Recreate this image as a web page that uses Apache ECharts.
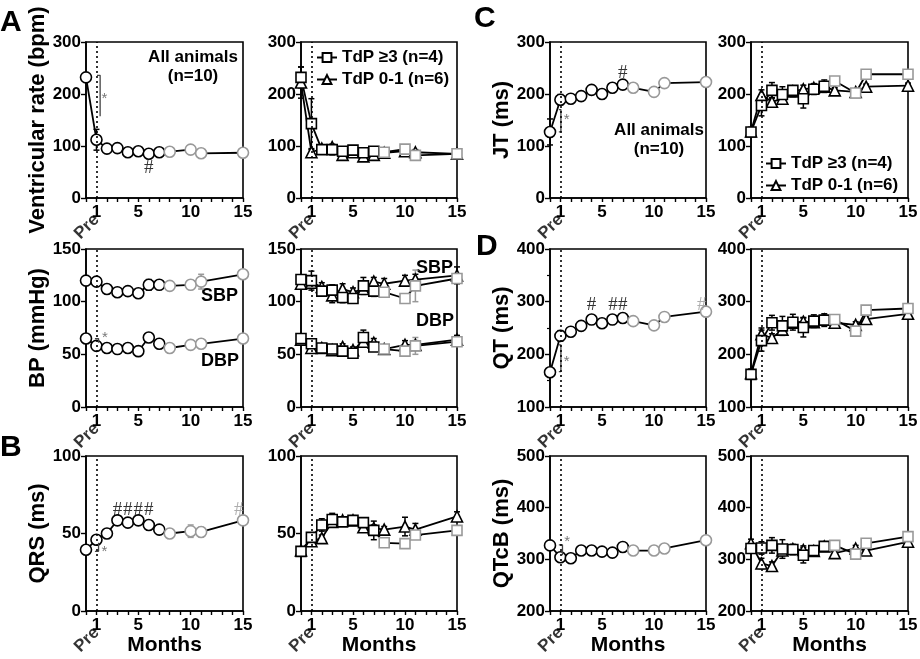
<!DOCTYPE html>
<html style="width: 100%;height:100%;">

<head>
    <meta charset="utf-8">
    <title>ECG and BP changes over months</title>
    <script src="https://cdn.jsdelivr.net/npm/echarts@6/dist/echarts.min.js"></script>
    <style>
        body {
            margin: 0;
            background: #ffffff;
        }

        #chart {
            width: 920px;
            height: 659px;
        }
    </style>
</head>

<body>
    <div id="chart"></div>
    <script>
        // months after AV block; 0 = "Pre"
        const months = [0, 1, 2, 3, 4, 5, 6, 7, 8, 10, 11, 15];
        const grayMonths = [8, 10, 11, 15];
        const tickMonths = [1, 5, 10, 15];
        const tdp3Name = 'TdP ≥3 (n=4)';
        const tdp01Name = 'TdP 0-1 (n=6)';

        // ventricular rate (bpm)
        const vrAll = [232, 112, 95, 96, 88, 90, 85, 88, 89, 93, 86, 87];
        const vrAllErr = [6, 20, 4, 5, 4, 4, 5, 4, 5, 4, 4, 4];
        const vrTdp3 = [232, 143, 93, 93, 90, 92, 87, 90, 88, 94, 82, 85];
        const vrTdp3Err = [20, 48, 6, 10, 5, 5, 6, 5, 5, 6, 5, 4];
        const vrTdp01 = [222, 88, 95, 98, 83, 88, 80, 83, 87, 90, 88, 85];
        const vrTdp01Err = [30, 5, 5, 5, 4, 4, 5, 4, 4, 5, 5, 4];

        // blood pressure (mmHg)
        const sbpAll = [120, 119, 112, 109, 110, 108, 116, 116, 115, 116, 119, 126];
        const sbpAllErr = [3, 3, 3, 4, 3, 3, 5, 3, 4, 4, 7, 3];
        const dbpAll = [65, 58, 56, 55, 56, 53, 66, 60, 56, 59, 60, 65];
        const dbpAllErr = [3, 3, 3, 3, 3, 3, 4, 3, 3, 3, 4, 3];
        const sbpTdp3 = [121, 120, 110, 111, 104, 103, 115, 110, 109, 103, 115, 122];
        const sbpTdp3Err = [4, 9, 4, 5, 5, 4, 8, 5, 4, 4, 15, 4];
        const sbpTdp01 = [117, 118, 114, 106, 112, 109, 112, 119, 117, 120, 121, 125];
        const sbpTdp01Err = [4, 4, 4, 7, 5, 4, 5, 4, 5, 5, 5, 8];
        const dbpTdp3 = [65, 60, 56, 55, 53, 51, 66, 57, 55, 53, 58, 62];
        const dbpTdp3Err = [3, 4, 3, 3, 3, 3, 7, 3, 3, 3, 8, 3];
        const dbpTdp01 = [64, 56, 56, 54, 57, 54, 62, 61, 55, 59, 59, 64];
        const dbpTdp01Err = [3, 3, 3, 3, 3, 3, 5, 4, 3, 4, 4, 4];

        // QRS (ms)
        const qrsAll = [39.5, 46, 50, 58.5, 57, 58.5, 55.5, 52.5, 50, 51.5, 51, 58.5];
        const qrsAllErr = [1, 2, 2, 2, 2, 2, 2, 2, 1, 4, 3, 1];
        const qrsTdp3 = [38.5, 47.5, 55.5, 59, 57.5, 58.5, 57, 52, 44, 43.5, 49, 52];
        const qrsTdp3Err = [1, 3, 4, 4, 2, 3, 3, 6, 1, 1, 1, 1];
        const qrsTdp01 = [39, 45, 47, 57.5, 58.5, 58.5, 54, 53.5, 52.5, 54.5, 52.5, 61];
        const qrsTdp01Err = [1, 2, 2, 2, 2, 2, 2, 2, 2, 6, 4, 3];

        // JT (ms)
        const jtAll = [127, 189, 191, 196, 208, 200, 212, 218, 212, 204, 221, 223];
        const jtAllErr = [25, 10, 6, 8, 5, 6, 4, 5, 6, 4, 7, 3];
        const jtTdp3 = [127, 178, 207, 199, 207, 191, 209, 215, 225, 202, 238, 238];
        const jtTdp3Err = [8, 20, 15, 15, 8, 18, 10, 12, 4, 4, 4, 4];
        const jtTdp01 = [128, 198, 185, 191, 205, 209, 212, 214, 207, 204, 214, 216];
        const jtTdp01Err = [8, 10, 8, 8, 10, 8, 8, 8, 5, 5, 5, 5];

        // QT (ms)
        const qtAll = [166, 235, 243, 254, 266, 259, 266, 269, 263, 255, 271, 281];
        const qtAllErr = [5, 10, 6, 5, 5, 6, 4, 8, 4, 4, 8, 4];
        const qtTdp3 = [162, 226, 260, 254, 261, 251, 263, 265, 266, 244, 284, 287];
        const qtTdp3Err = [8, 20, 14, 18, 15, 18, 12, 12, 4, 4, 4, 4];
        const qtTdp01 = [164, 238, 231, 247, 260, 262, 261, 266, 260, 256, 267, 277];
        const qtTdp01Err = [8, 12, 8, 8, 8, 8, 8, 8, 6, 6, 6, 6];

        // QTcB (ms)
        const qtcAll = [327, 304, 302, 317, 317, 315, 313, 324, 317, 317, 321, 337];
        const qtcAllErr = [3, 5, 8, 4, 4, 5, 4, 6, 3, 3, 5, 8];
        const qtcTdp3 = [321, 322, 327, 320, 319, 308, 317, 325, 327, 310, 331, 344];
        const qtcTdp3Err = [8, 12, 15, 18, 10, 15, 8, 8, 4, 4, 4, 4];
        const qtcTdp01 = [331, 292, 287, 317, 320, 318, 316, 325, 312, 321, 317, 334];
        const qtcTdp01Err = [8, 10, 8, 10, 8, 8, 8, 8, 6, 6, 6, 6];

        const GRAY = '#999999';
        const FONT = '"Liberation Sans", Arial, sans-serif';

        // panel layout: rows x columns
        const colLeft = [86, 301, 550, 751];
        const colWidth = [157, 156, 156, 157];
        const rowTop = [42, 249, 456];
        const rowHeight = [156, 158, 155];
        const yRanges = [
            [[0, 300, 100, 'Ventricular rate (bpm)'], [0, 300, 100, ''], [0, 300, 100, 'JT (ms)'], [0, 300, 100, '']],
            [[0, 150, 50, 'BP (mmHg)'], [0, 150, 50, ''], [100, 400, 100, 'QT (ms)'], [100, 400, 100, '']],
            [[0, 100, 50, 'QRS (ms)'], [0, 100, 50, ''], [200, 500, 100, 'QTcB (ms)'], [200, 500, 100, '']]
        ];

        const grids = [];
        const xAxes = [];
        const yAxes = [];
        const series = [];

        for (let r = 0; r < 3; r++) {
            for (let c = 0; c < 4; c++) {
                const g = r * 4 + c;
                const [ymin, ymax, yint, yname] = yRanges[r][c];
                grids.push({
                    left: colLeft[c], top: rowTop[r], width: colWidth[c], height: rowHeight[r],
                    show: true, borderColor: '#000', borderWidth: 1.6,
                    outerBoundsMode: 'none'
                });
                xAxes.push({
                    gridIndex: g, type: 'value', min: 0, max: 15, interval: 1,
                    axisLine: { lineStyle: { color: '#000', width: 1.6 } },
                    axisTick: { length: 4, lineStyle: { color: '#000', width: 1.4 } },
                    splitLine: { show: false },
                    axisLabel: {
                        formatter: v => tickMonths.includes(v) ? String(v) : '',
                        color: '#000', fontWeight: 'bold', fontSize: 17, fontFamily: FONT, margin: 6
                    },
                    name: r === 2 ? 'Months' : '',
                    nameLocation: 'middle', nameGap: 18,
                    nameTextStyle: { color: '#000', fontWeight: 'bold', fontSize: 21, fontFamily: FONT }
                });
                yAxes.push({
                    gridIndex: g, type: 'value', min: ymin, max: ymax, interval: yint,
                    axisLine: { show: true, lineStyle: { color: '#000', width: 1.6 } },
                    axisTick: { show: true, length: 5, lineStyle: { color: '#000', width: 1.4 } },
                    minorTick: { show: g === 6, splitNumber: 2, length: 3, lineStyle: { color: '#000', width: 1.2 } },
                    splitLine: { show: false },
                    axisLabel: { color: '#000', fontWeight: 'bold', fontSize: 17, fontFamily: FONT, margin: 5 },
                    name: yname, nameLocation: 'middle', nameGap: 34,
                    nameTextStyle: { color: '#000', fontWeight: 'bold', fontSize: 22, fontFamily: FONT }
                });
                // rotated "Pre" label at month 0
                series.push({
                    type: 'scatter', xAxisIndex: g, yAxisIndex: g, symbolSize: 0, silent: true,
                    data: [[0, ymin]],
                    label: {
                        show: true, formatter: 'Pre', position: 'inside', rotate: 45,
                        align: 'right', verticalAlign: 'middle', offset: [-6, 21],
                        color: '#000', fontWeight: 'bold', fontSize: 17, fontFamily: FONT
                    }
                });
            }
        }

        function errorBar(params, api) {
            const x = api.value(0), y = api.value(1), e = api.value(2);
            const col = api.value(3) ? GRAY : '#000';
            const hi = api.coord([x, y + e]);
            const lo = api.coord([x, y - e]);
            const st = { stroke: col, lineWidth: 1.5 };
            return {
                type: 'group', children: [
                    { type: 'line', shape: { x1: hi[0], y1: hi[1], x2: lo[0], y2: lo[1] }, style: st },
                    { type: 'line', shape: { x1: hi[0] - 3, y1: hi[1], x2: hi[0] + 3, y2: hi[1] }, style: st },
                    { type: 'line', shape: { x1: lo[0] - 3, y1: lo[1], x2: lo[0] + 3, y2: lo[1] }, style: st }
                ]
            };
        }

        function addLine(g, name, vals, errs, symbol, grayPts, dotted) {
            const gray = grayPts ? grayMonths : [];
            const s = {
                type: 'line', name: name, xAxisIndex: g, yAxisIndex: g, z: 3,
                symbol: symbol, symbolSize: symbol === 'rect' ? 10 : 11,
                data: months.map((m, i) => gray.includes(m)
                    ? { value: [m, vals[i]], itemStyle: { borderColor: GRAY } }
                    : { value: [m, vals[i]] }),
                itemStyle: { color: '#fff', borderColor: '#000', borderWidth: 1.6 },
                lineStyle: { color: '#000', width: 1.8 },
                emphasis: { disabled: true }
            };
            if (dotted) {
                s.markLine = {
                    silent: true, symbol: ['none', 'none'], label: { show: false },
                    lineStyle: { type: [2, 3], color: '#000', width: 1.6 },
                    data: [{ xAxis: 1 }]
                };
            }
            series.push(s);
            series.push({
                type: 'custom', xAxisIndex: g, yAxisIndex: g, z: 2, silent: true,
                data: months.map((m, i) => [m, vals[i], errs[i], gray.includes(m) ? 1 : 0]),
                renderItem: errorBar
            });
        }

        function addMark(g, pts, text, color, size, serif) {
            series.push({
                type: 'scatter', xAxisIndex: g, yAxisIndex: g, symbolSize: 0, silent: true, z: 5,
                data: pts,
                label: {
                    show: true, position: 'inside', formatter: text, color: color, fontSize: size,
                    fontFamily: serif ? '"Liberation Serif", serif' : FONT
                }
            });
        }

        function addBracket(g, pts) {
            series.push({
                type: 'line', xAxisIndex: g, yAxisIndex: g, data: pts, symbol: 'none', silent: true, z: 4,
                lineStyle: { color: '#444', width: 1.3 }
            });
        }

        // A: ventricular rate
        addLine(0, 'all', vrAll, vrAllErr, 'circle', true, true);
        addBracket(0, [[1.05, 236], [1.35, 236], [1.35, 157]]);
        addMark(0, [[1.75, 190]], '*', '#555', 15, false);
        addMark(0, [[6, 57]], '#', '#000', 19, true);
        addLine(1, tdp01Name, vrTdp01, vrTdp01Err, 'triangle', false, true);
        addLine(1, tdp3Name, vrTdp3, vrTdp3Err, 'rect', true, false);

        // C: JT
        addLine(2, 'all', jtAll, jtAllErr, 'circle', true, true);
        addBracket(2, [[0.85, 170], [1.05, 170], [1.05, 127], [0.85, 127]]);
        addMark(2, [[1.6, 150]], '*', '#555', 15, false);
        addMark(2, [[7, 240]], '#', '#000', 19, true);
        addLine(3, tdp01Name, jtTdp01, jtTdp01Err, 'triangle', false, true);
        addLine(3, tdp3Name, jtTdp3, jtTdp3Err, 'rect', true, false);

        // BP
        addLine(4, 'all', sbpAll, sbpAllErr, 'circle', true, true);
        addLine(4, 'all', dbpAll, dbpAllErr, 'circle', true, false);
        addBracket(4, [[0.85, 65], [1.2, 65], [1.2, 61]]);
        addMark(4, [[1.8, 66]], '*', '#555', 15, false);
        addLine(5, tdp01Name, sbpTdp01, sbpTdp01Err, 'triangle', false, true);
        addLine(5, tdp01Name, dbpTdp01, dbpTdp01Err, 'triangle', false, false);
        addLine(5, tdp3Name, sbpTdp3, sbpTdp3Err, 'rect', true, false);
        addLine(5, tdp3Name, dbpTdp3, dbpTdp3Err, 'rect', true, false);

        // D: QT
        addLine(6, 'all', qtAll, qtAllErr, 'circle', true, true);
        addBracket(6, [[0.85, 218], [1.05, 218], [1.05, 167], [0.85, 167]]);
        addMark(6, [[1.6, 185]], '*', '#555', 15, false);
        addMark(6, [[4, 293], [6.05, 293], [7, 293]], '#', '#000', 19, true);
        addMark(6, [[14.6, 293]], '#', GRAY, 19, true);
        addLine(7, tdp01Name, qtTdp01, qtTdp01Err, 'triangle', false, true);
        addLine(7, tdp3Name, qtTdp3, qtTdp3Err, 'rect', true, false);

        // B: QRS
        addLine(8, 'all', qrsAll, qrsAllErr, 'circle', true, true);
        addBracket(8, [[0.85, 38.5], [1.2, 38.5], [1.2, 44]]);
        addMark(8, [[1.75, 38]], '*', '#555', 15, false);
        addMark(8, [[3, 65], [4, 65], [5, 65], [6, 65]], '#', '#000', 19, true);
        addMark(8, [[14.6, 65]], '#', GRAY, 19, true);
        addLine(9, tdp01Name, qrsTdp01, qrsTdp01Err, 'triangle', false, true);
        addLine(9, tdp3Name, qrsTdp3, qrsTdp3Err, 'rect', true, false);

        // QTcB
        addLine(10, 'all', qtcAll, qtcAllErr, 'circle', true, true);
        addBracket(10, [[0.85, 328], [1.2, 328], [1.2, 308]]);
        addMark(10, [[1.65, 334]], '*', '#555', 15, false);
        addLine(11, tdp01Name, qtcTdp01, qtcTdp01Err, 'triangle', false, true);
        addLine(11, tdp3Name, qtcTdp3, qtcTdp3Err, 'rect', true, false);

        const legendBase = {
            data: [tdp3Name, tdp01Name], orient: 'vertical', itemWidth: 20, itemHeight: 11, itemGap: 5,
            selectedMode: false, padding: 0,
            textStyle: { color: '#000', fontWeight: 'bold', fontSize: 17, fontFamily: FONT }
        };

        function txt(x, y, text, size, align) {
            return {
                type: 'text', x: x, y: y, silent: true,
                style: {
                    text: text, fill: '#000', font: 'bold ' + size + 'px ' + FONT,
                    align: align || 'left', verticalAlign: 'top', lineHeight: size + 2
                }
            };
        }

        const chart = echarts.init(document.getElementById('chart'));
        chart.setOption({
            animation: false,
            backgroundColor: '#fff',
            grid: grids,
            xAxis: xAxes,
            yAxis: yAxes,
            legend: [
                Object.assign({ left: 316, top: 49 }, legendBase),
                Object.assign({ left: 765, top: 155 }, legendBase)
            ],
            graphic: [
                txt(0, 7, 'A', 30),
                txt(0, 432, 'B', 30),
                txt(474, 3, 'C', 30),
                txt(476, 231, 'D', 30),
                txt(193, 48, 'All animals\n(n=10)', 17, 'center'),
                txt(659, 121, 'All animals\n(n=10)', 17, 'center'),
                txt(201, 286, 'SBP', 18),
                txt(201, 351, 'DBP', 18),
                txt(416, 258, 'SBP', 18),
                txt(416, 311, 'DBP', 18)
            ],
            series: series
        });
    </script>
</body>

</html>
